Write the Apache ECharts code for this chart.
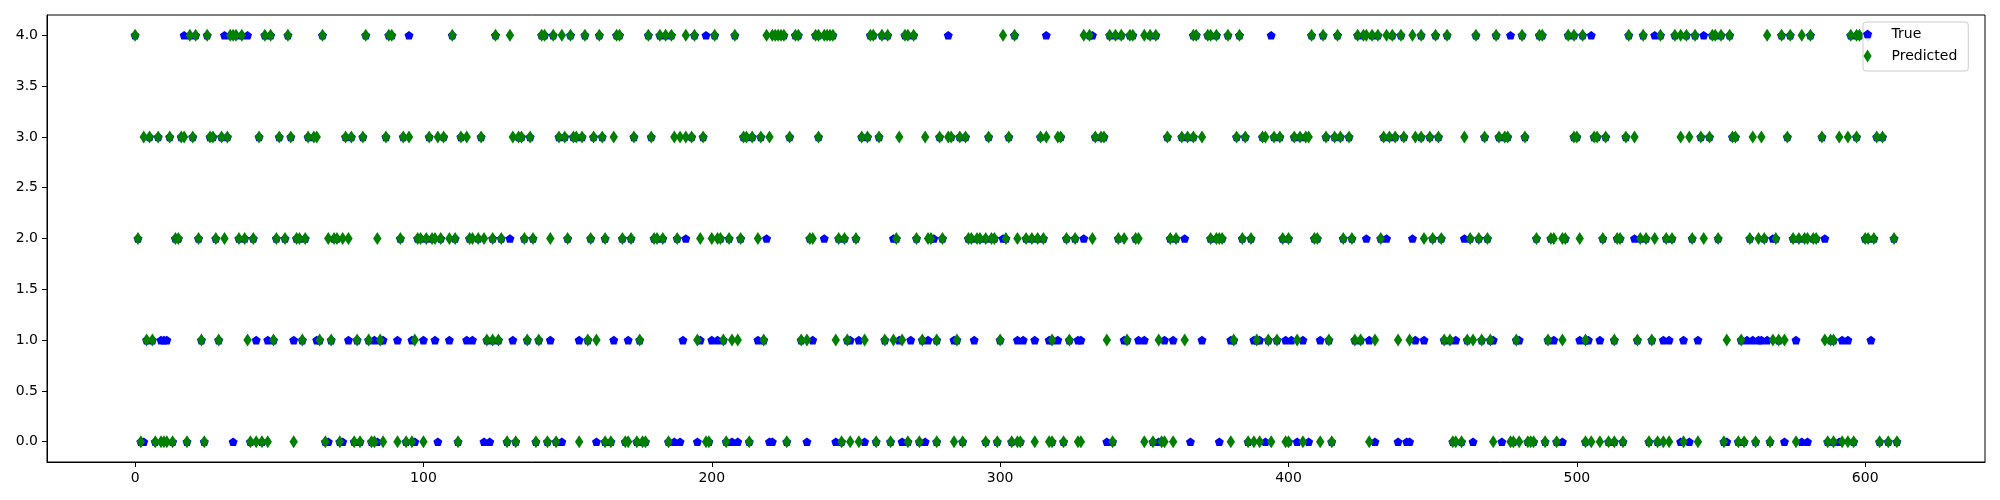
<!DOCTYPE html>
<html>
<head>
<meta charset="utf-8">
<script src="https://cdn.jsdelivr.net/npm/echarts@6/dist/echarts.min.js"></script>
<style>
html,body{margin:0;padding:0;background:#fff;}
#chart{width:2000px;height:500px;}
</style>
</head>
<body>
<div id="chart"></div>
<script>
// Sample index positions of the Predicted class (green diamonds), one list per class
const predicted0 = [2,7,9,10,11,13,18,24,40,42,44,46,55,66,71,76,78,82,83,86,91,94,96,100,112,129,132,139,143,146,154,163,165,170,171,174,176,177,185,198,199,205,213,226,245,248,251,257,262,268,272,278,284,287,295,299,304,306,307,312,317,318,322,327,328,339,350,353,356,357,360,380,386,388,390,394,399,400,405,411,415,428,457,458,460,471,477,478,480,483,484,485,489,493,503,505,508,511,513,516,525,528,530,532,537,542,551,556,558,562,567,576,587,589,592,594,596,605,608,611];
const predicted1 = [4,6,23,29,39,48,58,64,68,77,81,85,97,122,124,126,136,140,157,160,175,195,204,207,209,218,231,233,243,247,253,260,263,266,273,278,285,300,318,324,337,344,355,364,381,389,393,396,403,414,423,425,430,438,442,454,456,462,464,467,470,479,490,495,503,513,521,526,552,557,568,570,572,586,588,589];
const predicted2 = [1,14,15,22,28,31,36,38,41,49,52,56,57,59,67,69,70,72,74,84,92,98,99,101,103,104,106,109,111,116,117,119,121,124,127,135,138,144,150,158,163,169,172,180,181,183,188,196,200,202,203,206,210,216,234,235,244,246,250,264,271,275,276,280,289,290,292,293,295,297,298,302,306,309,311,313,315,323,326,332,341,343,347,348,359,361,373,375,376,377,384,387,398,400,409,410,419,422,432,447,450,453,463,466,469,486,491,492,495,496,501,509,514,515,522,524,527,531,533,540,544,549,560,563,565,569,575,577,579,580,582,583,600,601,603,610];
const predicted3 = [3,5,8,12,16,17,20,26,27,30,32,43,50,54,60,62,63,73,75,79,87,93,95,102,105,107,113,115,120,131,133,134,137,147,149,152,153,155,159,162,166,173,179,187,189,191,193,197,211,212,214,217,220,227,237,252,254,258,265,274,279,282,283,286,288,296,303,314,316,320,321,333,335,336,358,363,365,367,370,382,385,391,392,395,397,402,404,406,407,413,416,418,421,433,435,437,440,444,446,449,452,461,468,473,475,476,482,499,500,506,507,510,517,520,536,539,543,546,554,555,561,564,573,585,591,594,597,604,606];
const predicted4 = [0,19,21,25,33,34,35,37,45,47,53,65,80,88,89,110,125,130,141,142,145,148,151,156,161,167,168,178,182,184,186,191,194,201,208,219,221,222,223,224,225,229,230,236,237,239,240,241,242,255,256,259,261,267,268,270,301,305,329,331,338,340,342,345,346,350,352,354,367,368,372,373,375,379,383,408,412,417,424,426,427,429,431,434,436,439,443,446,451,455,465,472,481,487,488,497,499,502,518,523,529,534,536,538,541,547,548,550,553,566,571,574,578,581,595,597,598,601];

// Sample indices where the True class differs from the prediction (blue pentagons visible), per true class
const trueOnly0 = [3,34,67,72,84,97,105,121,123,148,160,187,189,195,207,209,220,221,233,243,253,266,274,337,355,366,376,392,403,407,430,438,441,442,464,474,495,536,539,552,572,578,580,591];
const trueOnly1 = [9,10,11,42,46,55,63,74,83,86,91,96,100,104,109,115,117,131,144,154,166,171,190,196,200,202,216,235,248,251,265,269,275,284,291,306,308,312,317,320,327,328,343,348,350,357,360,370,380,388,390,399,401,405,411,428,444,447,458,471,480,492,501,504,508,530,532,537,542,559,561,563,564,566,576,592,594,602];
const trueOnly2 = [130,191,219,239,263,277,301,329,364,427,434,443,461,520,568,586];
const trueOnly3 = [];
const trueOnly4 = [17,31,39,95,198,282,316,332,394,477,505,527,544];

const xTickValues = [0,100,200,300,400,500,600];
const yTickValues = [0,0.5,1,1.5,2,2.5,3,3.5,4];
const seriesNames = ['True','Predicted'];

const predRows = [predicted0, predicted1, predicted2, predicted3, predicted4];
const trueRows = [trueOnly0, trueOnly1, trueOnly2, trueOnly3, trueOnly4];
const mismatch = new Set(trueRows.flat());
const predData = predRows.flatMap((xs, c) => xs.map(x => [x, c]));
const trueData = predRows.flatMap((xs, c) => xs.filter(x => !mismatch.has(x)).map(x => [x, c]))
  .concat(trueRows.flatMap((xs, c) => xs.map(x => [x, c])))
  .sort((a, b) => a[0] - b[0]);

const pentagon = 'path://M0,-1L0.951,-0.309L0.588,0.809L-0.588,0.809L-0.951,-0.309Z';
const pentagonLegend = 'path://M0,-1.45M0,1.26M0,-1L0.951,-0.309L0.588,0.809L-0.588,0.809L-0.951,-0.309Z';
const thinDiamond = 'path://M0,-1L0.62,0L0,1L-0.62,0Z';

const font = 'DejaVu Sans';
const chart = echarts.init(document.getElementById('chart'), null, {renderer: 'canvas'});
chart.setOption({
  animation: false,
  backgroundColor: '#ffffff',
  grid: {
    left: 47, top: 15, width: 1938, height: 447,
    show: true, borderColor: '#000', borderWidth: 1, backgroundColor: 'transparent',
    containLabel: false, outerBoundsMode: 'none'
  },
  legend: {
    orient: 'vertical',
    left: 1863, top: 22,
    itemWidth: 38, itemHeight: 13, itemGap: 6,
    padding: [4, 11, 7, 0],
    backgroundColor: 'rgba(255,255,255,0.8)',
    borderColor: '#cccccc', borderWidth: 1, borderRadius: 3,
    textStyle: {fontFamily: font, fontSize: 14, lineHeight: 16, color: '#000'},
    data: [
      {name: seriesNames[0], icon: pentagonLegend, itemStyle: {color: '#0000ff'}},
      {name: seriesNames[1], icon: thinDiamond, itemStyle: {color: '#008000'}}
    ]
  },
  xAxis: {
    type: 'value', min: -30.55, max: 641.55,
    splitLine: {show: false},
    axisLine: {show: true, onZero: false, lineStyle: {color: '#000', width: 1}},
    axisTick: {show: true, length: 5, lineStyle: {color: '#000', width: 1}, customValues: xTickValues},
    axisLabel: {show: true, margin: 9, color: '#000', fontFamily: font, fontSize: 14, customValues: xTickValues,
      formatter: v => String(Math.round(v))}
  },
  yAxis: {
    type: 'value', min: -0.2, max: 4.2,
    splitLine: {show: false},
    axisLine: {show: true, onZero: false, lineStyle: {color: '#000', width: 1}},
    axisTick: {show: true, length: 5, lineStyle: {color: '#000', width: 1}, customValues: yTickValues},
    axisLabel: {show: true, margin: 9, color: '#000', fontFamily: font, fontSize: 14, customValues: yTickValues,
      formatter: v => Number(v).toFixed(1)}
  },
  series: [
    {
      name: seriesNames[0], type: 'scatter', data: trueData,
      symbol: pentagon, symbolSize: [9, 8.6],
      itemStyle: {color: '#0000ff', opacity: 1}
    },
    {
      name: seriesNames[1], type: 'scatter', data: predData,
      symbol: thinDiamond, symbolSize: [8.4, 13],
      itemStyle: {color: '#008000', opacity: 1}
    }
  ]
});
</script>
</body>
</html>
